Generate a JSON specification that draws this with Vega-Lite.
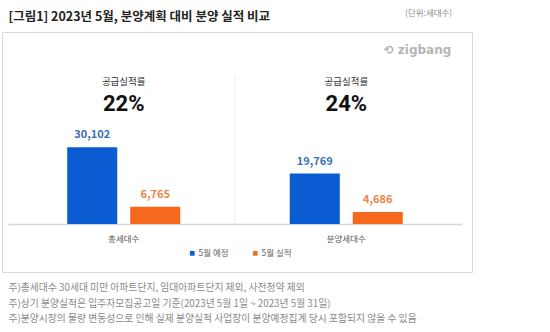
{
  "$schema": "https://vega.github.io/schema/vega-lite/v6.json",
  "width": 470,
  "height": 240,
  "autosize": "none",
  "padding": {"left": 2, "top": 32, "right": 78, "bottom": 60},
  "background": "white",
  "config": {
    "font": "Noto Sans CJK KR",
    "view": {"stroke": "#d9d9d9", "strokeWidth": 1},
    "axis": {"labelFont": "Noto Sans CJK KR"}
  },
  "datasets": {
    "bars": [
      {"cat": "총세대수", "series": "5월 예정", "value": 30102, "label": "30,102"},
      {"cat": "총세대수", "series": "5월 실적", "value": 6765, "label": "6,765"},
      {"cat": "분양세대수", "series": "5월 예정", "value": 19769, "label": "19,769"},
      {"cat": "분양세대수", "series": "5월 실적", "value": 4686, "label": "4,686"}
    ],
    "rates": [
      {"cat": "총세대수", "head": "공급실적률", "rate": "22%"},
      {"cat": "분양세대수", "head": "공급실적률", "rate": "24%"}
    ],
    "titles": [
      {"cat": "총세대수", "y": 81200, "text": "[그림1] 2023년 5월, 분양계획 대비 분양 실적 비교"}
    ],
    "notes": [
      {"cat": "총세대수", "y": -25100, "note": "주)총세대수 30세대 미만 아파트단지, 임대아파트단지 제외, 사전청약 제외"},
      {"cat": "총세대수", "y": -31400, "note": "주)상기 분양실적은 입주자모집공고일 기준(2023년 5월 1일 ~ 2023년 5월 31일)"},
      {"cat": "총세대수", "y": -37250, "note": "주)분양시장의 물량 변동성으로 인해 실제 분양실적 사업장이 분양예정집계 당시 포함되지 않을 수 있음"}
    ],
    "unit": [
      {"cat": "분양세대수", "y": 82700, "text": "(단위:세대수)"}
    ],
    "logo": [
      {"cat": "분양세대수", "y": 68200, "text": "⟲ zigbang"}
    ],
    "divider": [
      {"cat": "분양세대수", "top": 58200, "bottom": 0}
    ]
  },
  "encoding": {
    "x": {
      "field": "cat",
      "type": "nominal",
      "sort": ["총세대수", "분양세대수"],
      "scale": {"domain": ["총세대수", "분양세대수"], "range": [6, 460], "paddingInner": 0, "paddingOuter": 0.02},
      "axis": {
        "title": null,
        "orient": "bottom",
        "offset": -48,
        "ticks": false,
        "labelAngle": 0,
        "labelPadding": 10,
        "labelFontSize": 8.5,
        "labelColor": "#555555",
        "domainColor": "#d9d9d9",
        "domainWidth": 1.5
      }
    }
  },
  "layer": [
    {
      "data": {"name": "divider"},
      "mark": {"type": "rule", "color": "#cfcfcf", "strokeDash": [1, 2], "strokeWidth": 1},
      "encoding": {
        "x": {"field": "cat", "type": "nominal", "bandPosition": 0},
        "y": {"field": "top", "type": "quantitative", "scale": {"domain": [-18824, 75294], "nice": false, "zero": false}, "axis": null},
        "y2": {"field": "bottom"}
      }
    },
    {
      "data": {"name": "bars"},
      "mark": {"type": "bar"},
      "encoding": {
        "xOffset": {"field": "series", "type": "nominal", "sort": ["5월 예정", "5월 실적"], "scale": {"paddingInner": 0.206, "paddingOuter": 0.869}},
        "y": {"field": "value", "type": "quantitative", "scale": {"domain": [-18824, 75294], "nice": false, "zero": false}, "axis": null},
        "color": {
          "field": "series",
          "type": "nominal",
          "sort": ["5월 예정", "5월 실적"],
          "scale": {"domain": ["5월 예정", "5월 실적"], "range": ["#0B5BD3", "#F5681E"]},
          "legend": {
            "title": null,
            "orient": "none",
            "direction": "horizontal",
            "legendX": 186,
            "legendY": 217,
            "symbolType": "square",
            "symbolSize": 22,
            "symbolStrokeWidth": 0,
            "labelFontSize": 8.5,
            "labelColor": "#666666",
            "labelOffset": 2,
            "columnPadding": 22,
            "labelFont": "Noto Sans CJK KR"
          }
        }
      }
    },
    {
      "data": {"name": "bars"},
      "mark": {"type": "text", "baseline": "middle", "dy": -12, "fontSize": 11, "fontWeight": 600, "font": "Noto Sans CJK KR"},
      "encoding": {
        "xOffset": {"field": "series", "type": "nominal", "sort": ["5월 예정", "5월 실적"], "scale": {"paddingInner": 0.206, "paddingOuter": 0.869}},
        "y": {"field": "value", "type": "quantitative"},
        "text": {"field": "label"},
        "color": {"field": "series", "type": "nominal", "scale": {"domain": ["5월 예정", "5월 실적"], "range": ["#0B5BD3", "#F5681E"]}, "legend": null},
        "fill": {"field": "series", "type": "nominal", "scale": {"domain": ["5월 예정", "5월 실적"], "range": ["#3A70B2", "#EE8446"]}, "legend": null}
      }
    },
    {
      "data": {"name": "rates"},
      "mark": {"type": "text", "baseline": "middle", "fontSize": 9.5, "color": "#333333"},
      "encoding": {
        "y": {"datum": 55700, "type": "quantitative"},
        "text": {"field": "head"}
      }
    },
    {
      "data": {"name": "rates"},
      "mark": {"type": "text", "baseline": "middle", "fontSize": 22, "fontWeight": "bold", "color": "#111111", "font": "Roboto"},
      "encoding": {
        "y": {"datum": 46900, "type": "quantitative"},
        "text": {"field": "rate"}
      }
    },
    {
      "data": {"name": "titles"},
      "mark": {"type": "text", "align": "left", "baseline": "middle", "fontSize": 12.5, "fontWeight": "bold", "color": "#222222", "dx": -4},
      "encoding": {
        "x": {"field": "cat", "type": "nominal", "bandPosition": 0},
        "y": {"field": "y", "type": "quantitative"},
        "text": {"field": "text"}
      }
    },
    {
      "data": {"name": "notes"},
      "mark": {"type": "text", "align": "left", "baseline": "middle", "fontSize": 9.8, "color": "#8a8a8a", "dx": -4},
      "encoding": {
        "x": {"field": "cat", "type": "nominal", "bandPosition": 0},
        "y": {"field": "y", "type": "quantitative"},
        "text": {"field": "note"}
      }
    },
    {
      "data": {"name": "unit"},
      "mark": {"type": "text", "align": "center", "baseline": "middle", "fontSize": 8.5, "color": "#8a8a8a"},
      "encoding": {
        "x": {"field": "cat", "type": "nominal", "bandPosition": 0.87},
        "y": {"field": "y", "type": "quantitative"},
        "text": {"field": "text"}
      }
    },
    {
      "data": {"name": "logo"},
      "mark": {"type": "text", "align": "center", "baseline": "middle", "fontSize": 12, "fontWeight": "bold", "color": "#b5b5b5", "font": "DejaVu Sans"},
      "encoding": {
        "x": {"field": "cat", "type": "nominal", "bandPosition": 0.82},
        "y": {"field": "y", "type": "quantitative"},
        "text": {"field": "text"}
      }
    }
  ]
}
